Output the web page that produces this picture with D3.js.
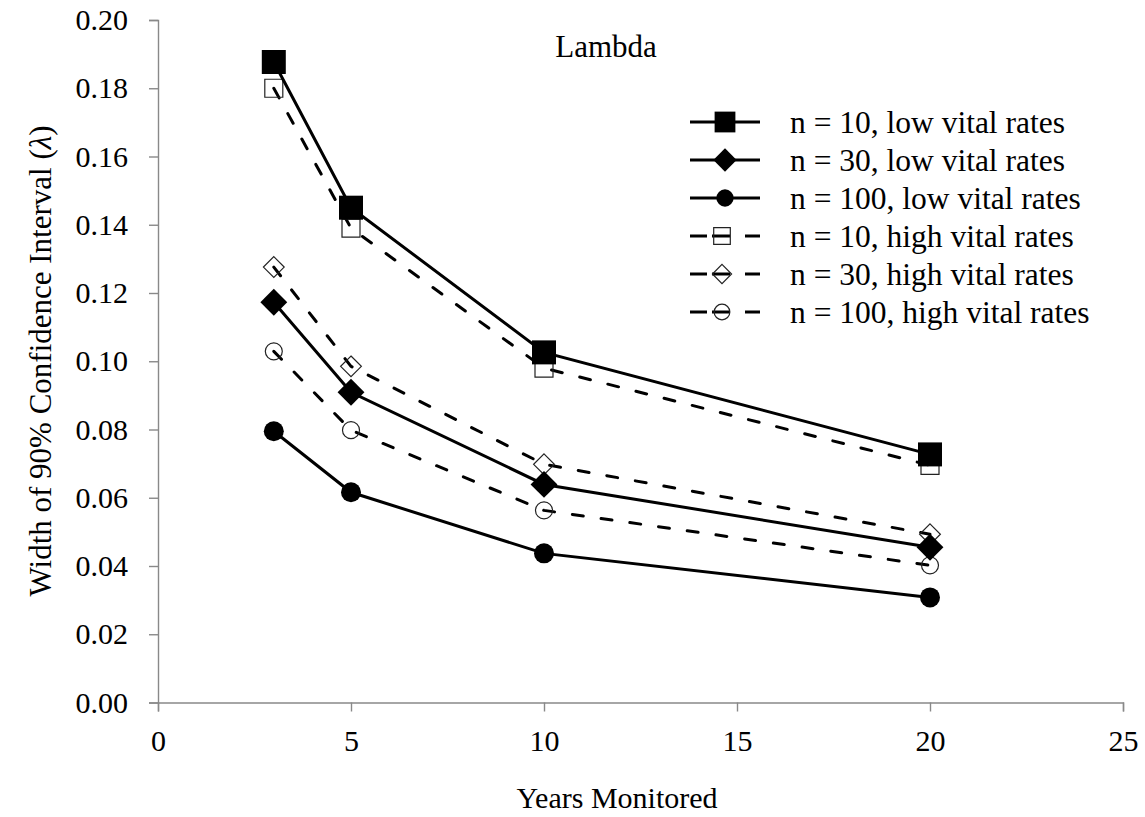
<!DOCTYPE html>
<html>
<head>
<meta charset="utf-8">
<script src="https://cdn.jsdelivr.net/npm/d3@7"></script>
<style>
  body { margin: 0; background: #fff; }
  svg { display: block; }
</style>
</head>
<body>
<div id="chart"></div>
<script>
const years = [3, 5, 10, 20];
const n10Low   = [0.1877, 0.1450, 0.1026, 0.0727];
const n30Low   = [0.1173, 0.0909, 0.0639, 0.0455];
const n100Low  = [0.0795, 0.0616, 0.0437, 0.0308];
const n10High  = [0.1800, 0.1390, 0.0980, 0.0695];
const n30High  = [0.1276, 0.0985, 0.0698, 0.0493];
const n100High = [0.1029, 0.0798, 0.0563, 0.0402];
const seriesNames = [
  "n = 10, low vital rates", "n = 30, low vital rates", "n = 100, low vital rates",
  "n = 10, high vital rates", "n = 30, high vital rates", "n = 100, high vital rates"
];
const xTicks = [0, 5, 10, 15, 20, 25];
const yTicks = [0, 0.02, 0.04, 0.06, 0.08, 0.10, 0.12, 0.14, 0.16, 0.18, 0.20];

const FONT = "Liberation Serif";
const W = 1145, H = 817;
const svg = d3.select("#chart").append("svg").attr("width", W).attr("height", H)
  .attr("font-family", FONT);

const x = d3.scaleLinear().domain([0, 25]).range([158, 1123]);
const y = d3.scaleLinear().domain([0, 0.2]).range([702.5, 20]);

const axisColor = "#898989";
const xAxis = svg.append("g").attr("transform", `translate(0,${y(0)})`)
  .call(d3.axisBottom(x).tickValues(xTicks).tickSize(9).tickPadding(18).tickFormat(d3.format("d")));
const yAxis = svg.append("g").attr("transform", `translate(${x(0)},0)`)
  .call(d3.axisLeft(y).tickValues(yTicks).tickSize(9).tickPadding(21).tickFormat(d3.format(".2f")));
[xAxis, yAxis].forEach(g => {
  g.attr("font-family", FONT).attr("font-size", 30);
  g.select(".domain").attr("stroke", axisColor).attr("stroke-width", 1.4);
  g.selectAll(".tick line").attr("stroke", axisColor).attr("stroke-width", 1.4);
  g.selectAll(".tick text").attr("fill", "#000").attr("font-family", FONT);
});

svg.append("text").attr("x", 617).attr("y", 808).attr("text-anchor", "middle")
  .attr("font-family", FONT).attr("font-size", 30).text("Years Monitored");
const yt = svg.append("text").attr("transform", "translate(51,361) rotate(-90)")
  .attr("text-anchor", "middle").attr("font-family", FONT).attr("font-size", 31);
yt.append("tspan").text("Width of 90% Confidence Interval (");
yt.append("tspan").attr("font-style", "italic").text("λ");
yt.append("tspan").text(")");
svg.append("text").attr("x", 606).attr("y", 57).attr("text-anchor", "middle")
  .attr("font-family", FONT).attr("font-size", 31).text("Lambda");

const sym = {
  square: d3.symbol().type(d3.symbolSquare),
  diamond: d3.symbol().type(d3.symbolDiamond2),
  circle: d3.symbol().type(d3.symbolCircle)
};
const series = [
  { name: seriesNames[3], vals: n10High,  dash: true,  shape: "square",  size: 18*18, fill: false },
  { name: seriesNames[4], vals: n30High,  dash: true,  shape: "diamond", size: 17*17/2*1.9, fill: false },
  { name: seriesNames[5], vals: n100High, dash: true,  shape: "circle",  size: Math.PI*8.5*8.5, fill: false },
  { name: seriesNames[0], vals: n10Low,   dash: false, shape: "square",  size: 24*24, fill: true },
  { name: seriesNames[1], vals: n30Low,   dash: false, shape: "diamond", size: 22*22/2*1.9, fill: true },
  { name: seriesNames[2], vals: n100Low,  dash: false, shape: "circle",  size: Math.PI*10*10, fill: true }
];

const line = d3.line().x(d => x(d[0])).y(d => y(d[1]));
series.forEach(s => {
  const pts = years.map((yr, i) => [yr, s.vals[i]]);
  const g = svg.append("g");
  g.append("path").attr("d", line(pts)).attr("fill", "none").attr("stroke", "#000")
    .attr("stroke-width", 3)
    .attr("stroke-linecap", s.dash ? "round" : "butt")
    .attr("stroke-dasharray", s.dash ? "11,18" : null);
  g.selectAll("path.m").data(pts).enter().append("path").attr("class", "m")
    .attr("d", sym[s.shape].size(s.size)())
    .attr("transform", d => `translate(${x(d[0])},${y(d[1])})`)
    .attr("fill", s.fill ? "#000" : "none")
    .attr("stroke", s.fill ? "none" : "#222").attr("stroke-width", 1.2);
});

const legendOrder = [3, 4, 5, 0, 1, 2];
const lg = svg.append("g");
legendOrder.forEach((si, i) => {
  const s = series[si];
  const ly = 122 + i * 38;
  lg.append("line").attr("x1", 690).attr("x2", 760).attr("y1", ly).attr("y2", ly)
    .attr("stroke", "#000").attr("stroke-width", 3)
    .attr("stroke-dasharray", s.dash ? "17,5,18,15,15" : null);
  const legSize = s.fill ? s.size * 0.75 : s.size * 0.85;
  lg.append("path").attr("d", sym[s.shape].size(legSize)())
    .attr("transform", `translate(${s.fill ? 725 : 722},${ly})`)
    .attr("fill", s.fill ? "#000" : "none")
    .attr("stroke", s.fill ? "none" : "#222").attr("stroke-width", 1.2);
  lg.append("text").attr("x", 790).attr("y", ly).attr("dy", "0.35em")
    .attr("font-family", FONT).attr("font-size", 31.5).text(s.name);
});
</script>
</body>
</html>
